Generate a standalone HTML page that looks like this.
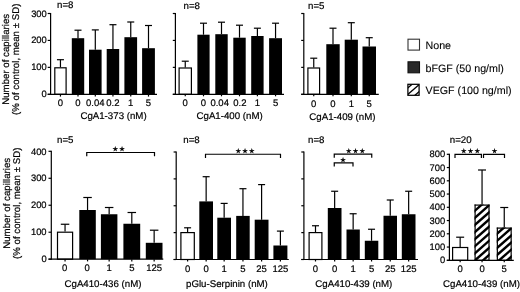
<!DOCTYPE html>
<html><head><meta charset="utf-8"><title>Figure</title>
<style>
html,body{margin:0;padding:0;background:#fff;}
body{width:520px;height:292px;overflow:hidden;}
svg{display:block;}
text{font-family:"Liberation Sans",Arial,Helvetica,sans-serif;fill:#000;text-rendering:geometricPrecision;stroke:#000;stroke-width:0.2px;}
.st{font-family:"DejaVu Sans","Noto Sans CJK JP",sans-serif;stroke:#000;stroke-width:0.3px;}
.lg{stroke-width:0.1px;}
</style></head><body>
<svg width="520" height="292" viewBox="0 0 520 292">
<defs>
</defs>
<rect x="0" y="0" width="520" height="292" fill="#fff"/>
<line x1="60.45" y1="67.20" x2="60.45" y2="59.70" stroke="#000" stroke-width="1.2"/>
<line x1="56.95" y1="59.70" x2="63.95" y2="59.70" stroke="#000" stroke-width="1.2"/>
<rect x="54.80" y="67.80" width="11.30" height="26.50" fill="#fff" stroke="#000" stroke-width="1.2"/>
<line x1="60.45" y1="94.30" x2="60.45" y2="96.60" stroke="#000" stroke-width="1.2"/>
<line x1="78.00" y1="38.20" x2="78.00" y2="30.20" stroke="#000" stroke-width="1.2"/>
<line x1="74.50" y1="30.20" x2="81.50" y2="30.20" stroke="#000" stroke-width="1.2"/>
<rect x="71.80" y="38.20" width="12.40" height="56.10" fill="#000"/>
<line x1="78.00" y1="94.30" x2="78.00" y2="96.60" stroke="#000" stroke-width="1.2"/>
<line x1="95.30" y1="49.70" x2="95.30" y2="29.90" stroke="#000" stroke-width="1.2"/>
<line x1="91.80" y1="29.90" x2="98.80" y2="29.90" stroke="#000" stroke-width="1.2"/>
<rect x="89.00" y="49.70" width="12.60" height="44.60" fill="#000"/>
<line x1="95.30" y1="94.30" x2="95.30" y2="96.60" stroke="#000" stroke-width="1.2"/>
<line x1="112.95" y1="49.00" x2="112.95" y2="24.70" stroke="#000" stroke-width="1.2"/>
<line x1="109.45" y1="24.70" x2="116.45" y2="24.70" stroke="#000" stroke-width="1.2"/>
<rect x="106.70" y="49.00" width="12.50" height="45.30" fill="#000"/>
<line x1="112.95" y1="94.30" x2="112.95" y2="96.60" stroke="#000" stroke-width="1.2"/>
<line x1="130.75" y1="37.20" x2="130.75" y2="22.00" stroke="#000" stroke-width="1.2"/>
<line x1="127.25" y1="22.00" x2="134.25" y2="22.00" stroke="#000" stroke-width="1.2"/>
<rect x="124.40" y="37.20" width="12.70" height="57.10" fill="#000"/>
<line x1="130.75" y1="94.30" x2="130.75" y2="96.60" stroke="#000" stroke-width="1.2"/>
<line x1="148.50" y1="48.20" x2="148.50" y2="25.50" stroke="#000" stroke-width="1.2"/>
<line x1="145.00" y1="25.50" x2="152.00" y2="25.50" stroke="#000" stroke-width="1.2"/>
<rect x="142.10" y="48.20" width="12.80" height="46.10" fill="#000"/>
<line x1="148.50" y1="94.30" x2="148.50" y2="96.60" stroke="#000" stroke-width="1.2"/>
<line x1="50.60" y1="12.90" x2="50.60" y2="94.90" stroke="#000" stroke-width="1.2"/>
<line x1="47.70" y1="94.30" x2="157.00" y2="94.30" stroke="#000" stroke-width="1.2"/>
<line x1="47.70" y1="94.30" x2="50.60" y2="94.30" stroke="#000" stroke-width="1.2"/>
<text x="46.80" y="97.30" font-size="9.4" text-anchor="end">0</text>
<line x1="47.70" y1="67.37" x2="50.60" y2="67.37" stroke="#000" stroke-width="1.2"/>
<text x="46.80" y="70.37" font-size="9.4" text-anchor="end">100</text>
<line x1="47.70" y1="40.43" x2="50.60" y2="40.43" stroke="#000" stroke-width="1.2"/>
<text x="46.80" y="43.43" font-size="9.4" text-anchor="end">200</text>
<line x1="47.70" y1="13.50" x2="50.60" y2="13.50" stroke="#000" stroke-width="1.2"/>
<text x="46.80" y="16.50" font-size="9.4" text-anchor="end">300</text>
<text x="60.45" y="105.70" font-size="9.5" text-anchor="middle">0</text>
<text x="78.00" y="105.70" font-size="9.5" text-anchor="middle">0</text>
<text x="95.30" y="105.70" font-size="9.5" text-anchor="middle">0.04</text>
<text x="112.95" y="105.70" font-size="9.5" text-anchor="middle">0.2</text>
<text x="130.75" y="105.70" font-size="9.5" text-anchor="middle">1</text>
<text x="148.50" y="105.70" font-size="9.5" text-anchor="middle">5</text>
<text x="80.40" y="119.10" font-size="9.7" text-anchor="start">CgA1-373 (nM)</text>
<text x="57.00" y="8.40" font-size="9.7" text-anchor="start">n=8</text>
<line x1="185.25" y1="67.40" x2="185.25" y2="61.20" stroke="#000" stroke-width="1.2"/>
<line x1="181.75" y1="61.20" x2="188.75" y2="61.20" stroke="#000" stroke-width="1.2"/>
<rect x="179.10" y="68.00" width="12.30" height="26.30" fill="#fff" stroke="#000" stroke-width="1.2"/>
<line x1="185.25" y1="94.30" x2="185.25" y2="96.30" stroke="#000" stroke-width="1.2"/>
<line x1="203.50" y1="34.70" x2="203.50" y2="23.20" stroke="#000" stroke-width="1.2"/>
<line x1="200.00" y1="23.20" x2="207.00" y2="23.20" stroke="#000" stroke-width="1.2"/>
<rect x="197.40" y="34.70" width="12.20" height="59.60" fill="#000"/>
<line x1="203.50" y1="94.30" x2="203.50" y2="96.30" stroke="#000" stroke-width="1.2"/>
<line x1="221.50" y1="34.20" x2="221.50" y2="22.20" stroke="#000" stroke-width="1.2"/>
<line x1="218.00" y1="22.20" x2="225.00" y2="22.20" stroke="#000" stroke-width="1.2"/>
<rect x="215.30" y="34.20" width="12.40" height="60.10" fill="#000"/>
<line x1="221.50" y1="94.30" x2="221.50" y2="96.30" stroke="#000" stroke-width="1.2"/>
<line x1="239.50" y1="37.70" x2="239.50" y2="25.20" stroke="#000" stroke-width="1.2"/>
<line x1="236.00" y1="25.20" x2="243.00" y2="25.20" stroke="#000" stroke-width="1.2"/>
<rect x="233.30" y="37.70" width="12.40" height="56.60" fill="#000"/>
<line x1="239.50" y1="94.30" x2="239.50" y2="96.30" stroke="#000" stroke-width="1.2"/>
<line x1="257.40" y1="36.00" x2="257.40" y2="28.20" stroke="#000" stroke-width="1.2"/>
<line x1="253.90" y1="28.20" x2="260.90" y2="28.20" stroke="#000" stroke-width="1.2"/>
<rect x="251.20" y="36.00" width="12.40" height="58.30" fill="#000"/>
<line x1="257.40" y1="94.30" x2="257.40" y2="96.30" stroke="#000" stroke-width="1.2"/>
<line x1="275.55" y1="38.20" x2="275.55" y2="23.20" stroke="#000" stroke-width="1.2"/>
<line x1="272.05" y1="23.20" x2="279.05" y2="23.20" stroke="#000" stroke-width="1.2"/>
<rect x="269.10" y="38.20" width="12.90" height="56.10" fill="#000"/>
<line x1="275.55" y1="94.30" x2="275.55" y2="96.30" stroke="#000" stroke-width="1.2"/>
<line x1="175.40" y1="12.90" x2="175.40" y2="94.90" stroke="#000" stroke-width="1.2"/>
<line x1="172.80" y1="94.30" x2="284.00" y2="94.30" stroke="#000" stroke-width="1.2"/>
<line x1="172.80" y1="94.30" x2="175.40" y2="94.30" stroke="#000" stroke-width="1.2"/>
<line x1="172.80" y1="67.37" x2="175.40" y2="67.37" stroke="#000" stroke-width="1.2"/>
<line x1="172.80" y1="40.43" x2="175.40" y2="40.43" stroke="#000" stroke-width="1.2"/>
<line x1="172.80" y1="13.50" x2="175.40" y2="13.50" stroke="#000" stroke-width="1.2"/>
<text x="185.25" y="105.70" font-size="9.5" text-anchor="middle">0</text>
<text x="203.50" y="105.70" font-size="9.5" text-anchor="middle">0</text>
<text x="219.70" y="105.70" font-size="9.5" text-anchor="middle">0.04</text>
<text x="239.90" y="105.70" font-size="9.5" text-anchor="middle">0.2</text>
<text x="257.40" y="105.70" font-size="9.5" text-anchor="middle">1</text>
<text x="275.55" y="105.70" font-size="9.5" text-anchor="middle">5</text>
<text x="196.50" y="119.10" font-size="9.7" text-anchor="start">CgA1-400 (nM)</text>
<text x="183.50" y="8.50" font-size="9.7" text-anchor="start">n=8</text>
<line x1="313.75" y1="67.40" x2="313.75" y2="58.20" stroke="#000" stroke-width="1.2"/>
<line x1="310.25" y1="58.20" x2="317.25" y2="58.20" stroke="#000" stroke-width="1.2"/>
<rect x="307.90" y="68.00" width="11.70" height="26.30" fill="#fff" stroke="#000" stroke-width="1.2"/>
<line x1="313.75" y1="94.30" x2="313.75" y2="96.30" stroke="#000" stroke-width="1.2"/>
<line x1="333.00" y1="44.20" x2="333.00" y2="28.20" stroke="#000" stroke-width="1.2"/>
<line x1="329.50" y1="28.20" x2="336.50" y2="28.20" stroke="#000" stroke-width="1.2"/>
<rect x="326.30" y="44.20" width="13.40" height="50.10" fill="#000"/>
<line x1="333.00" y1="94.30" x2="333.00" y2="96.30" stroke="#000" stroke-width="1.2"/>
<line x1="351.30" y1="39.70" x2="351.30" y2="22.70" stroke="#000" stroke-width="1.2"/>
<line x1="347.80" y1="22.70" x2="354.80" y2="22.70" stroke="#000" stroke-width="1.2"/>
<rect x="344.70" y="39.70" width="13.20" height="54.60" fill="#000"/>
<line x1="351.30" y1="94.30" x2="351.30" y2="96.30" stroke="#000" stroke-width="1.2"/>
<line x1="369.25" y1="46.50" x2="369.25" y2="37.70" stroke="#000" stroke-width="1.2"/>
<line x1="365.75" y1="37.70" x2="372.75" y2="37.70" stroke="#000" stroke-width="1.2"/>
<rect x="362.50" y="46.50" width="13.50" height="47.80" fill="#000"/>
<line x1="369.25" y1="94.30" x2="369.25" y2="96.30" stroke="#000" stroke-width="1.2"/>
<line x1="303.80" y1="12.90" x2="303.80" y2="94.90" stroke="#000" stroke-width="1.2"/>
<line x1="301.20" y1="94.30" x2="378.80" y2="94.30" stroke="#000" stroke-width="1.2"/>
<line x1="301.20" y1="94.30" x2="303.80" y2="94.30" stroke="#000" stroke-width="1.2"/>
<line x1="301.20" y1="67.37" x2="303.80" y2="67.37" stroke="#000" stroke-width="1.2"/>
<line x1="301.20" y1="40.43" x2="303.80" y2="40.43" stroke="#000" stroke-width="1.2"/>
<line x1="301.20" y1="13.50" x2="303.80" y2="13.50" stroke="#000" stroke-width="1.2"/>
<text x="313.75" y="106.50" font-size="9.5" text-anchor="middle">0</text>
<text x="333.00" y="106.50" font-size="9.5" text-anchor="middle">0</text>
<text x="351.30" y="106.50" font-size="9.5" text-anchor="middle">1</text>
<text x="369.25" y="106.50" font-size="9.5" text-anchor="middle">5</text>
<text x="309.30" y="119.50" font-size="9.7" text-anchor="start">CgA1-409 (nM)</text>
<text x="308.00" y="8.70" font-size="9.7" text-anchor="start">n=5</text>
<line x1="65.05" y1="231.60" x2="65.05" y2="224.25" stroke="#000" stroke-width="1.2"/>
<line x1="60.80" y1="224.25" x2="69.30" y2="224.25" stroke="#000" stroke-width="1.2"/>
<rect x="57.50" y="232.20" width="15.10" height="27.00" fill="#fff" stroke="#000" stroke-width="1.2"/>
<line x1="65.05" y1="259.20" x2="65.05" y2="261.40" stroke="#000" stroke-width="1.2"/>
<line x1="87.55" y1="210.00" x2="87.55" y2="197.50" stroke="#000" stroke-width="1.2"/>
<line x1="83.30" y1="197.50" x2="91.80" y2="197.50" stroke="#000" stroke-width="1.2"/>
<rect x="79.30" y="210.00" width="16.50" height="49.20" fill="#000"/>
<line x1="87.55" y1="259.20" x2="87.55" y2="261.40" stroke="#000" stroke-width="1.2"/>
<line x1="109.15" y1="214.25" x2="109.15" y2="207.50" stroke="#000" stroke-width="1.2"/>
<line x1="104.90" y1="207.50" x2="113.40" y2="207.50" stroke="#000" stroke-width="1.2"/>
<rect x="100.90" y="214.25" width="16.50" height="44.95" fill="#000"/>
<line x1="109.15" y1="259.20" x2="109.15" y2="261.40" stroke="#000" stroke-width="1.2"/>
<line x1="131.80" y1="223.75" x2="131.80" y2="212.50" stroke="#000" stroke-width="1.2"/>
<line x1="127.55" y1="212.50" x2="136.05" y2="212.50" stroke="#000" stroke-width="1.2"/>
<rect x="123.40" y="223.75" width="16.80" height="35.45" fill="#000"/>
<line x1="131.80" y1="259.20" x2="131.80" y2="261.40" stroke="#000" stroke-width="1.2"/>
<line x1="154.15" y1="242.80" x2="154.15" y2="230.20" stroke="#000" stroke-width="1.2"/>
<line x1="149.90" y1="230.20" x2="158.40" y2="230.20" stroke="#000" stroke-width="1.2"/>
<rect x="145.80" y="242.80" width="16.70" height="16.40" fill="#000"/>
<line x1="154.15" y1="259.20" x2="154.15" y2="261.40" stroke="#000" stroke-width="1.2"/>
<line x1="51.30" y1="150.70" x2="51.30" y2="259.80" stroke="#000" stroke-width="1.2"/>
<line x1="48.50" y1="259.20" x2="163.30" y2="259.20" stroke="#000" stroke-width="1.2"/>
<line x1="48.50" y1="259.20" x2="51.30" y2="259.20" stroke="#000" stroke-width="1.2"/>
<text x="46.60" y="262.40" font-size="9.4" text-anchor="end">0</text>
<line x1="48.50" y1="232.22" x2="51.30" y2="232.22" stroke="#000" stroke-width="1.2"/>
<text x="46.60" y="235.42" font-size="9.4" text-anchor="end">100</text>
<line x1="48.50" y1="205.25" x2="51.30" y2="205.25" stroke="#000" stroke-width="1.2"/>
<text x="46.60" y="208.45" font-size="9.4" text-anchor="end">200</text>
<line x1="48.50" y1="178.28" x2="51.30" y2="178.28" stroke="#000" stroke-width="1.2"/>
<text x="46.60" y="181.47" font-size="9.4" text-anchor="end">300</text>
<line x1="48.50" y1="151.30" x2="51.30" y2="151.30" stroke="#000" stroke-width="1.2"/>
<text x="46.60" y="154.50" font-size="9.4" text-anchor="end">400</text>
<text x="64.55" y="271.00" font-size="9.5" text-anchor="middle">0</text>
<text x="87.05" y="271.00" font-size="9.5" text-anchor="middle">0</text>
<text x="109.15" y="271.00" font-size="9.5" text-anchor="middle">1</text>
<text x="131.80" y="271.00" font-size="9.5" text-anchor="middle">5</text>
<text x="154.15" y="271.00" font-size="9.5" text-anchor="middle">125</text>
<text x="64.50" y="287.30" font-size="9.7" text-anchor="start">CgA410-436 (nM)</text>
<text x="57.00" y="142.60" font-size="9.7" text-anchor="start">n=5</text>
<polyline points="86.75,156.20 86.75,152.50 154.50,152.50 154.50,156.20" fill="none" stroke="#000" stroke-width="1.2"/>
<text x="115.40" y="151.30" font-size="6.2" text-anchor="middle" class="st">★</text>
<text x="122.10" y="151.30" font-size="6.2" text-anchor="middle" class="st">★</text>
<line x1="187.60" y1="232.00" x2="187.60" y2="227.80" stroke="#000" stroke-width="1.2"/>
<line x1="184.10" y1="227.80" x2="191.10" y2="227.80" stroke="#000" stroke-width="1.2"/>
<rect x="180.90" y="232.60" width="13.40" height="26.90" fill="#fff" stroke="#000" stroke-width="1.2"/>
<line x1="187.60" y1="259.50" x2="187.60" y2="261.50" stroke="#000" stroke-width="1.2"/>
<line x1="206.15" y1="201.40" x2="206.15" y2="176.70" stroke="#000" stroke-width="1.2"/>
<line x1="202.65" y1="176.70" x2="209.65" y2="176.70" stroke="#000" stroke-width="1.2"/>
<rect x="199.30" y="201.40" width="13.70" height="58.10" fill="#000"/>
<line x1="206.15" y1="259.50" x2="206.15" y2="261.50" stroke="#000" stroke-width="1.2"/>
<line x1="224.15" y1="217.70" x2="224.15" y2="203.40" stroke="#000" stroke-width="1.2"/>
<line x1="220.65" y1="203.40" x2="227.65" y2="203.40" stroke="#000" stroke-width="1.2"/>
<rect x="217.30" y="217.70" width="13.70" height="41.80" fill="#000"/>
<line x1="224.15" y1="259.50" x2="224.15" y2="261.50" stroke="#000" stroke-width="1.2"/>
<line x1="242.95" y1="215.90" x2="242.95" y2="188.70" stroke="#000" stroke-width="1.2"/>
<line x1="239.45" y1="188.70" x2="246.45" y2="188.70" stroke="#000" stroke-width="1.2"/>
<rect x="236.20" y="215.90" width="13.50" height="43.60" fill="#000"/>
<line x1="242.95" y1="259.50" x2="242.95" y2="261.50" stroke="#000" stroke-width="1.2"/>
<line x1="261.60" y1="219.70" x2="261.60" y2="184.60" stroke="#000" stroke-width="1.2"/>
<line x1="258.10" y1="184.60" x2="265.10" y2="184.60" stroke="#000" stroke-width="1.2"/>
<rect x="254.70" y="219.70" width="13.80" height="39.80" fill="#000"/>
<line x1="261.60" y1="259.50" x2="261.60" y2="261.50" stroke="#000" stroke-width="1.2"/>
<line x1="280.40" y1="245.50" x2="280.40" y2="231.10" stroke="#000" stroke-width="1.2"/>
<line x1="276.90" y1="231.10" x2="283.90" y2="231.10" stroke="#000" stroke-width="1.2"/>
<rect x="273.40" y="245.50" width="14.00" height="14.00" fill="#000"/>
<line x1="280.40" y1="259.50" x2="280.40" y2="261.50" stroke="#000" stroke-width="1.2"/>
<line x1="176.20" y1="151.40" x2="176.20" y2="260.10" stroke="#000" stroke-width="1.2"/>
<line x1="173.60" y1="259.50" x2="288.80" y2="259.50" stroke="#000" stroke-width="1.2"/>
<line x1="173.60" y1="259.50" x2="176.20" y2="259.50" stroke="#000" stroke-width="1.2"/>
<line x1="173.60" y1="232.62" x2="176.20" y2="232.62" stroke="#000" stroke-width="1.2"/>
<line x1="173.60" y1="205.75" x2="176.20" y2="205.75" stroke="#000" stroke-width="1.2"/>
<line x1="173.60" y1="178.88" x2="176.20" y2="178.88" stroke="#000" stroke-width="1.2"/>
<line x1="173.60" y1="152.00" x2="176.20" y2="152.00" stroke="#000" stroke-width="1.2"/>
<text x="187.60" y="272.20" font-size="9.5" text-anchor="middle">0</text>
<text x="206.15" y="272.20" font-size="9.5" text-anchor="middle">0</text>
<text x="224.15" y="272.20" font-size="9.5" text-anchor="middle">1</text>
<text x="242.95" y="272.20" font-size="9.5" text-anchor="middle">5</text>
<text x="261.60" y="272.20" font-size="9.5" text-anchor="middle">25</text>
<text x="280.40" y="272.20" font-size="9.5" text-anchor="middle">125</text>
<text x="186.00" y="286.70" font-size="9.7" text-anchor="start">pGlu-Serpinin (nM)</text>
<text x="183.30" y="142.60" font-size="9.7" text-anchor="start">n=8</text>
<polyline points="205.50,157.95 205.50,154.25 280.50,154.25 280.50,157.95" fill="none" stroke="#000" stroke-width="1.2"/>
<text x="238.30" y="153.05" font-size="6.2" text-anchor="middle" class="st">★</text>
<text x="245.00" y="153.05" font-size="6.2" text-anchor="middle" class="st">★</text>
<text x="251.70" y="153.05" font-size="6.2" text-anchor="middle" class="st">★</text>
<line x1="315.50" y1="232.00" x2="315.50" y2="225.75" stroke="#000" stroke-width="1.2"/>
<line x1="312.00" y1="225.75" x2="319.00" y2="225.75" stroke="#000" stroke-width="1.2"/>
<rect x="309.10" y="232.60" width="12.80" height="26.90" fill="#fff" stroke="#000" stroke-width="1.2"/>
<line x1="315.50" y1="259.50" x2="315.50" y2="261.50" stroke="#000" stroke-width="1.2"/>
<line x1="334.65" y1="208.00" x2="334.65" y2="191.25" stroke="#000" stroke-width="1.2"/>
<line x1="331.15" y1="191.25" x2="338.15" y2="191.25" stroke="#000" stroke-width="1.2"/>
<rect x="327.80" y="208.00" width="13.70" height="51.50" fill="#000"/>
<line x1="334.65" y1="259.50" x2="334.65" y2="261.50" stroke="#000" stroke-width="1.2"/>
<line x1="353.15" y1="229.50" x2="353.15" y2="213.75" stroke="#000" stroke-width="1.2"/>
<line x1="349.65" y1="213.75" x2="356.65" y2="213.75" stroke="#000" stroke-width="1.2"/>
<rect x="346.50" y="229.50" width="13.30" height="30.00" fill="#000"/>
<line x1="353.15" y1="259.50" x2="353.15" y2="261.50" stroke="#000" stroke-width="1.2"/>
<line x1="371.55" y1="240.75" x2="371.55" y2="229.25" stroke="#000" stroke-width="1.2"/>
<line x1="368.05" y1="229.25" x2="375.05" y2="229.25" stroke="#000" stroke-width="1.2"/>
<rect x="364.80" y="240.75" width="13.50" height="18.75" fill="#000"/>
<line x1="371.55" y1="259.50" x2="371.55" y2="261.50" stroke="#000" stroke-width="1.2"/>
<line x1="390.25" y1="215.75" x2="390.25" y2="200.00" stroke="#000" stroke-width="1.2"/>
<line x1="386.75" y1="200.00" x2="393.75" y2="200.00" stroke="#000" stroke-width="1.2"/>
<rect x="383.50" y="215.75" width="13.50" height="43.75" fill="#000"/>
<line x1="390.25" y1="259.50" x2="390.25" y2="261.50" stroke="#000" stroke-width="1.2"/>
<line x1="408.65" y1="214.25" x2="408.65" y2="191.25" stroke="#000" stroke-width="1.2"/>
<line x1="405.15" y1="191.25" x2="412.15" y2="191.25" stroke="#000" stroke-width="1.2"/>
<rect x="401.80" y="214.25" width="13.70" height="45.25" fill="#000"/>
<line x1="408.65" y1="259.50" x2="408.65" y2="261.50" stroke="#000" stroke-width="1.2"/>
<line x1="303.90" y1="151.40" x2="303.90" y2="260.10" stroke="#000" stroke-width="1.2"/>
<line x1="301.30" y1="259.50" x2="418.00" y2="259.50" stroke="#000" stroke-width="1.2"/>
<line x1="301.30" y1="259.50" x2="303.90" y2="259.50" stroke="#000" stroke-width="1.2"/>
<line x1="301.30" y1="232.62" x2="303.90" y2="232.62" stroke="#000" stroke-width="1.2"/>
<line x1="301.30" y1="205.75" x2="303.90" y2="205.75" stroke="#000" stroke-width="1.2"/>
<line x1="301.30" y1="178.88" x2="303.90" y2="178.88" stroke="#000" stroke-width="1.2"/>
<line x1="301.30" y1="152.00" x2="303.90" y2="152.00" stroke="#000" stroke-width="1.2"/>
<text x="315.50" y="272.30" font-size="9.5" text-anchor="middle">0</text>
<text x="334.65" y="272.30" font-size="9.5" text-anchor="middle">0</text>
<text x="353.15" y="272.30" font-size="9.5" text-anchor="middle">1</text>
<text x="371.55" y="272.30" font-size="9.5" text-anchor="middle">5</text>
<text x="390.25" y="272.30" font-size="9.5" text-anchor="middle">25</text>
<text x="408.65" y="272.30" font-size="9.5" text-anchor="middle">125</text>
<text x="315.30" y="286.70" font-size="9.7" text-anchor="start">CgA410-439 (nM)</text>
<text x="308.00" y="142.60" font-size="9.7" text-anchor="start">n=8</text>
<polyline points="334.25,157.80 334.25,154.10 371.75,154.10 371.75,157.80" fill="none" stroke="#000" stroke-width="1.2"/>
<text x="348.80" y="152.90" font-size="6.2" text-anchor="middle" class="st">★</text>
<text x="355.50" y="152.90" font-size="6.2" text-anchor="middle" class="st">★</text>
<text x="362.20" y="152.90" font-size="6.2" text-anchor="middle" class="st">★</text>
<polyline points="334.25,166.60 334.25,162.90 353.00,162.90 353.00,166.60" fill="none" stroke="#000" stroke-width="1.2"/>
<text x="343.00" y="161.70" font-size="6.2" text-anchor="middle" class="st">★</text>
<line x1="460.15" y1="246.90" x2="460.15" y2="237.20" stroke="#000" stroke-width="1.2"/>
<line x1="456.15" y1="237.20" x2="464.15" y2="237.20" stroke="#000" stroke-width="1.2"/>
<rect x="452.60" y="247.50" width="15.10" height="12.80" fill="#fff" stroke="#000" stroke-width="1.2"/>
<line x1="460.15" y1="260.30" x2="460.15" y2="262.30" stroke="#000" stroke-width="1.2"/>
<line x1="482.05" y1="204.50" x2="482.05" y2="170.00" stroke="#000" stroke-width="1.2"/>
<line x1="478.05" y1="170.00" x2="486.05" y2="170.00" stroke="#000" stroke-width="1.2"/>
<clipPath id="hc1"><rect x="474.50" y="204.50" width="15.10" height="55.80"/></clipPath>
<rect x="474.50" y="204.50" width="15.10" height="55.80" fill="#fff"/>
<g clip-path="url(#hc1)" stroke="#000" stroke-width="2.4"><line x1="470.05" y1="207.86" x2="494.05" y2="186.74"/><line x1="470.05" y1="214.96" x2="494.05" y2="193.84"/><line x1="470.05" y1="222.06" x2="494.05" y2="200.94"/><line x1="470.05" y1="229.16" x2="494.05" y2="208.04"/><line x1="470.05" y1="236.26" x2="494.05" y2="215.14"/><line x1="470.05" y1="243.36" x2="494.05" y2="222.24"/><line x1="470.05" y1="250.46" x2="494.05" y2="229.34"/><line x1="470.05" y1="257.56" x2="494.05" y2="236.44"/><line x1="470.05" y1="264.66" x2="494.05" y2="243.54"/><line x1="470.05" y1="271.76" x2="494.05" y2="250.64"/><line x1="470.05" y1="278.86" x2="494.05" y2="257.74"/></g>
<rect x="475.10" y="205.10" width="13.90" height="55.20" fill="none" stroke="#000" stroke-width="1.2"/>
<line x1="482.05" y1="260.30" x2="482.05" y2="262.30" stroke="#000" stroke-width="1.2"/>
<line x1="504.25" y1="227.50" x2="504.25" y2="207.50" stroke="#000" stroke-width="1.2"/>
<line x1="500.25" y1="207.50" x2="508.25" y2="207.50" stroke="#000" stroke-width="1.2"/>
<clipPath id="hc2"><rect x="496.75" y="227.50" width="15.00" height="32.80"/></clipPath>
<rect x="496.75" y="227.50" width="15.00" height="32.80" fill="#fff"/>
<g clip-path="url(#hc2)" stroke="#000" stroke-width="2.4"><line x1="492.25" y1="230.86" x2="516.25" y2="209.74"/><line x1="492.25" y1="237.96" x2="516.25" y2="216.84"/><line x1="492.25" y1="245.06" x2="516.25" y2="223.94"/><line x1="492.25" y1="252.16" x2="516.25" y2="231.04"/><line x1="492.25" y1="259.26" x2="516.25" y2="238.14"/><line x1="492.25" y1="266.36" x2="516.25" y2="245.24"/><line x1="492.25" y1="273.46" x2="516.25" y2="252.34"/><line x1="492.25" y1="280.56" x2="516.25" y2="259.44"/></g>
<rect x="497.35" y="228.10" width="13.80" height="32.20" fill="none" stroke="#000" stroke-width="1.2"/>
<line x1="504.25" y1="260.30" x2="504.25" y2="262.30" stroke="#000" stroke-width="1.2"/>
<line x1="449.40" y1="153.70" x2="449.40" y2="260.90" stroke="#000" stroke-width="1.2"/>
<line x1="446.80" y1="260.30" x2="513.80" y2="260.30" stroke="#000" stroke-width="1.2"/>
<line x1="446.80" y1="260.30" x2="449.40" y2="260.30" stroke="#000" stroke-width="1.2"/>
<text x="445.20" y="263.30" font-size="9.4" text-anchor="end">0</text>
<line x1="446.80" y1="247.05" x2="449.40" y2="247.05" stroke="#000" stroke-width="1.2"/>
<text x="445.20" y="250.05" font-size="9.4" text-anchor="end">100</text>
<line x1="446.80" y1="233.80" x2="449.40" y2="233.80" stroke="#000" stroke-width="1.2"/>
<text x="445.20" y="236.80" font-size="9.4" text-anchor="end">200</text>
<line x1="446.80" y1="220.55" x2="449.40" y2="220.55" stroke="#000" stroke-width="1.2"/>
<text x="445.20" y="223.55" font-size="9.4" text-anchor="end">300</text>
<line x1="446.80" y1="207.30" x2="449.40" y2="207.30" stroke="#000" stroke-width="1.2"/>
<text x="445.20" y="210.30" font-size="9.4" text-anchor="end">400</text>
<line x1="446.80" y1="194.05" x2="449.40" y2="194.05" stroke="#000" stroke-width="1.2"/>
<text x="445.20" y="197.05" font-size="9.4" text-anchor="end">500</text>
<line x1="446.80" y1="180.80" x2="449.40" y2="180.80" stroke="#000" stroke-width="1.2"/>
<text x="445.20" y="183.80" font-size="9.4" text-anchor="end">600</text>
<line x1="446.80" y1="167.55" x2="449.40" y2="167.55" stroke="#000" stroke-width="1.2"/>
<text x="445.20" y="170.55" font-size="9.4" text-anchor="end">700</text>
<line x1="446.80" y1="154.30" x2="449.40" y2="154.30" stroke="#000" stroke-width="1.2"/>
<text x="445.20" y="157.30" font-size="9.4" text-anchor="end">800</text>
<text x="460.15" y="271.50" font-size="9.5" text-anchor="middle">0</text>
<text x="482.05" y="271.50" font-size="9.5" text-anchor="middle">0</text>
<text x="504.25" y="271.50" font-size="9.5" text-anchor="middle">5</text>
<text x="443.00" y="287.00" font-size="9.7" text-anchor="start">CgA410-439 (nM)</text>
<text x="449.80" y="142.60" font-size="9.7" text-anchor="start">n=20</text>
<polyline points="455.00,158.10 455.00,154.40 481.40,154.40 481.40,158.10" fill="none" stroke="#000" stroke-width="1.2"/>
<text x="463.80" y="153.20" font-size="6.2" text-anchor="middle" class="st">★</text>
<text x="470.50" y="153.20" font-size="6.2" text-anchor="middle" class="st">★</text>
<text x="477.20" y="153.20" font-size="6.2" text-anchor="middle" class="st">★</text>
<polyline points="483.50,158.10 483.50,154.40 504.50,154.40 504.50,158.10" fill="none" stroke="#000" stroke-width="1.2"/>
<text x="494.50" y="153.20" font-size="6.2" text-anchor="middle" class="st">★</text>
<text transform="translate(9.1,59.3) rotate(-90)" font-size="9.7" text-anchor="middle">Number of capillaries</text>
<text transform="translate(19.2,59.3) rotate(-90)" font-size="9.7" text-anchor="middle">(% of control, mean ± SD)</text>
<text transform="translate(9.5,203.3) rotate(-90)" font-size="9.7" text-anchor="middle">Number of capillaries</text>
<text transform="translate(19.599999999999998,203.3) rotate(-90)" font-size="9.7" text-anchor="middle">(% of control, mean ± SD)</text>
<rect x="408" y="39.2" width="11.5" height="10.9" fill="#fff" stroke="#333" stroke-width="1.1"/>
<text x="425.50" y="48.80" font-size="10.7" text-anchor="start" class="lg">None</text>
<rect x="408" y="61.8" width="11.5" height="11" fill="#2a2a2a" stroke="#111" stroke-width="1.1"/>
<text x="425.50" y="72.00" font-size="10.7" text-anchor="start" class="lg">bFGF (50 ng/ml)</text>
<clipPath id="lg"><rect x="407.9" y="84.3" width="11.2" height="11"/></clipPath>
<g clip-path="url(#lg)" stroke="#000" stroke-width="1.35"><line x1="406" y1="89.47" x2="414" y2="82.55"/><line x1="406" y1="95.97" x2="421" y2="83"/><line x1="413" y1="96.98" x2="421" y2="90.06"/></g>
<rect x="407.9" y="84.3" width="11.2" height="11" fill="none" stroke="#000" stroke-width="1.25"/>
<text x="425.50" y="93.60" font-size="10.7" text-anchor="start" class="lg">VEGF (100 ng/ml)</text>
</svg>
</body></html>
